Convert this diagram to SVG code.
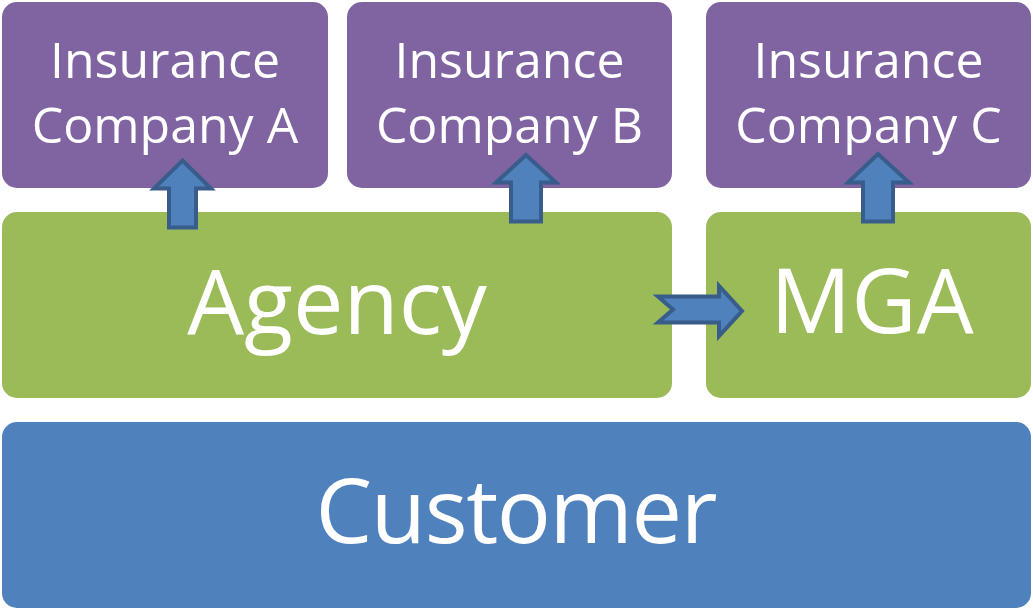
<svg xmlns="http://www.w3.org/2000/svg" width="1033" height="609" viewBox="0 0 1033 609">
<style>
.co{fill:#8064a2}
.gr{fill:#9bbb59}
.bl{fill:#4f81bd}
.t{fill:#ffffff;font-family:"Open Sans","Noto Sans",sans-serif;text-anchor:middle}
.s{font-size:50px}
.l{font-size:90px}
.ar{fill:#4f81bd;stroke:#385d8a;stroke-width:4;stroke-linejoin:miter}
</style>
<rect width="1033" height="609" fill="#ffffff"/>
<g id="companyA"><rect class="co" x="2" y="2" width="326" height="186" rx="15"/><text class="t s" x="165" y="78">Insurance</text><text class="t s" x="165" y="143">Company A</text></g>
<g id="companyB"><rect class="co" x="347" y="2" width="325" height="186" rx="15"/><text class="t s" x="509.5" y="78">Insurance</text><text class="t s" x="509.5" y="143">Company B</text></g>
<g id="companyC"><rect class="co" x="706" y="2" width="325" height="186" rx="15"/><text class="t s" x="868.5" y="78">Insurance</text><text class="t s" x="868.5" y="143">Company C</text></g>
<g id="agency"><rect class="gr" x="2" y="212" width="670" height="186" rx="15"/><text class="t l" x="337" y="334">Agency</text></g>
<g id="mga"><rect class="gr" x="706" y="212" width="325" height="186" rx="15"/><text class="t l" x="872" y="333" font-size="93">MGA</text></g>
<g id="customer"><rect class="bl" x="2" y="422" width="1029" height="186" rx="15"/><text class="t l" x="516.5" y="543" textLength="402">Customer</text></g>
<g id="connectors">
<polygon class="ar" points="182.5,160.5 211,188.5 196,188.5 196,227.5 169,227.5 169,188.5 154,188.5"/>
<polygon class="ar" points="526,155 556,182.5 541,182.5 541,221.5 511,221.5 511,182.5 496,182.5"/>
<polygon class="ar" points="878,154 909,182.5 893,182.5 893,221.5 863,221.5 863,182.5 848,182.5"/>
<polygon class="ar" points="658,296.5 719,296.5 719,286 742,311 719,336 719,322.5 658,322.5 673,309.5"/>
</g>
</svg>
